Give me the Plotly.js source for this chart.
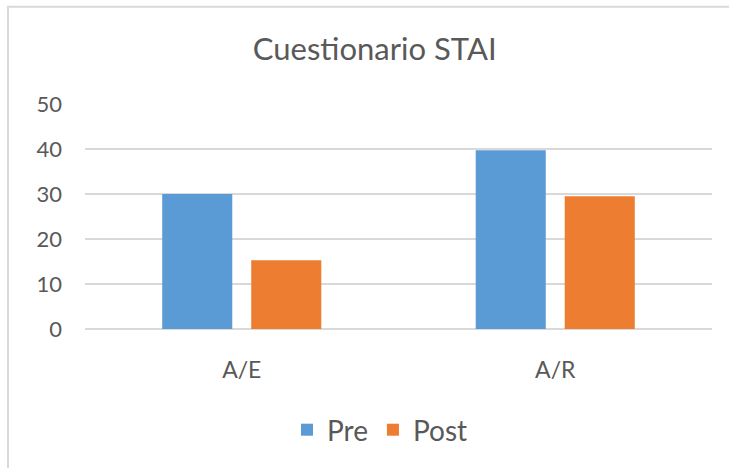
<!DOCTYPE html>
<html>
<head>
<meta charset="utf-8">
<script src="https://cdn.plot.ly/plotly-3.0.1.min.js"></script>
<style>html,body{margin:0;padding:0;background:#fff;}#chart{width:729px;height:468px;}</style>
</head>
<body>
<div id="chart"></div>
<script>
const categories = ["A/E", "A/R"];
const preValues = [30, 39.7];
const postValues = [15.3, 29.5];
const seriesNames = ["Pre", "Post"];
const yTicks = [0, 10, 20, 30, 40, 50];

const FONT = "Lato, 'Open Sans', sans-serif";
const TXT = "#595959";
const GRID = "#d9d9d9";

const traces = [
  {type: "bar", name: seriesNames[0], x: categories, y: preValues, marker: {color: "#5b9bd5"}},
  {type: "bar", name: seriesNames[1], x: categories, y: postValues, marker: {color: "#ed7d31"}}
];

const layout = {
  width: 729, height: 468,
  paper_bgcolor: "#ffffff", plot_bgcolor: "#ffffff",
  margin: {l: 85, r: 17, t: 104, b: 139},
  barmode: "group", bargap: 0.432, bargroupgap: 0.213,
  font: {family: FONT, color: TXT},
  title: {text: "Cuestionario STAI", font: {family: FONT, size: 31, color: TXT},
          xref: "container", x: 0.514, xanchor: "center",
          yref: "container", y: 1 - 49/468, yanchor: "middle"},
  xaxis: {type: "category", showgrid: false, zeroline: false, showline: false,
          ticks: "", ticklabelstandoff: 25, tickfont: {size: 23, color: TXT, family: FONT}},
  yaxis: {range: [0, 50], tickvals: yTicks, ticktext: yTicks.map(String),
          showgrid: true, gridcolor: GRID, gridwidth: 1.5,
          zeroline: true, zerolinecolor: GRID, zerolinewidth: 1.5,
          showline: false, ticks: "", ticklabelstandoff: 22,
          tickfont: {size: 22, color: TXT, family: FONT}},
  showlegend: true,
  legend: {orientation: "h", xref: "container", yref: "container",
           x: 380/729, xanchor: "center", y: 1 - 430/468, yanchor: "middle",
           font: {size: 28, color: TXT, family: FONT}, itemwidth: 30,
           traceorder: "normal"},
  shapes: [{type: "rect", xref: "paper", yref: "paper",
            x0: (8 - 85)/627, x1: 1.2, y0: -1, y1: (328.3 - 6)/225,
            line: {color: GRID, width: 2}, fillcolor: "rgba(0,0,0,0)", layer: "below"}]
};

Plotly.newPlot("chart", traces, layout, {staticPlot: true, displayModeBar: false});
</script>
</body>
</html>
